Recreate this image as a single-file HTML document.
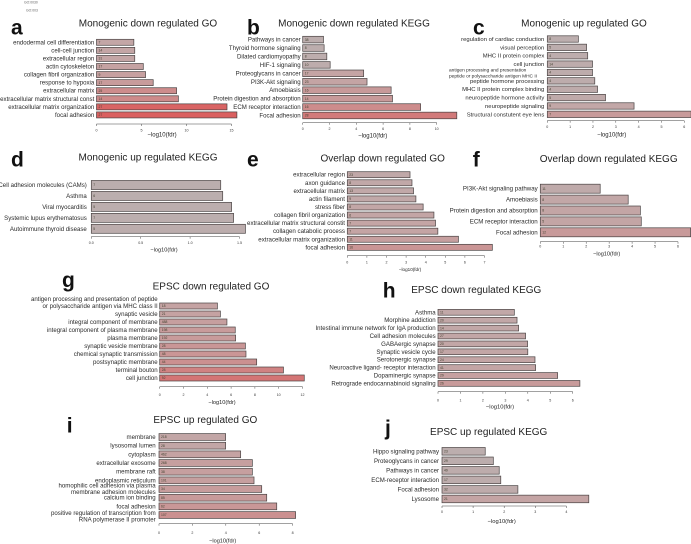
<!DOCTYPE html>
<html lang="en">
<head>
<meta charset="utf-8">
<title>GO and KEGG enrichment bar charts</title>
<style>
html,body{margin:0;padding:0;background:#fff;}
body{width:691px;height:544px;overflow:hidden;}
svg{display:block;font-family:"Liberation Sans",sans-serif;}
</style>
</head>
<body>
<svg id="figure" width="691" height="544" viewBox="0 0 691 544" xmlns="http://www.w3.org/2000/svg">
  <text x="24" y="3.5" font-size="3.4" fill="#666">GO:0030</text>
  <text x="26" y="11.5" font-size="3.4" fill="#666">GO:003</text>
</svg>
<script>
const aCategories = ["endodermal cell differentiation","cell-cell junction","extracellular region","actin cytoskeleton","collagen fibril organization","response to hypoxia","extracellular matrix","extracellular matrix structural const","extracellular matrix organization","focal adhesion"];
const aValues = [4.15,4.25,4.25,5.2,5.45,6.3,8.9,9.1,14.5,15.6];
const aCounts = [7,14,31,17,9,17,25,14,27,27];
const aTicks = ["0","5","10","15"];

const bCategories = ["Pathways in cancer","Thyroid hormone signaling","Dilated cardiomyopathy","HIF-1 signaling","Proteoglycans in cancer","PI3K-Akt signaling","Amoebiasis","Protein digestion and absorption","ECM receptor interaction","Focal adhesion"];
const bValues = [1.55,1.6,1.8,2.05,4.55,4.8,6.6,6.7,8.8,11.5];
const bCounts = [38,8,8,10,17,23,16,14,16,28];
const bTicks = ["0","2","4","6","8","10"];

const cCategories = ["regulation of cardiac conduction","visual perception","MHC II protein complex","cell junction","antigen processing and presentation\npeptide or polysaccharide antigen MHC II","peptide hormone processing","MHC II protein complex binding","neuropeptide hormone activity","neuropeptide signaling","Structural constutent eye lens"];
const cValues = [1.36,1.72,1.77,1.98,1.98,2.08,2.2,2.55,3.8,6.3];
const cCounts = [8,5,4,14,4,4,4,5,9,7];
const cTicks = ["0","1","2","3","4","5","6"];

const dCategories = ["Cell adhesion molecules (CAMs)","Asthma","Viral myocarditis","Systemic lupus erythematosus","Autoimmune thyroid disease"];
const dValues = [1.31,1.33,1.42,1.44,1.56];
const dCounts = [7,6,5,7,5];
const dTicks = ["0.0","0.5","1.0","1.5"];

const eCategories = ["extracellular region","axon guidance","extracellular matrix","actin filament","stress fiber","collagen fibril organization","extracellular matrix structural constit","collagen catabolic process","extracellular matrix organization","focal adhesion"];
const eValues = [3.2,3.3,3.38,3.5,3.87,4.42,4.5,4.62,5.67,7.4];
const eCounts = [23,8,13,9,8,6,7,7,11,16];
const eTicks = ["0","1","2","3","4","5","6","7"];

const fCategories = ["PI3K-Akt signaling pathway","Amoebiasis","Protein digestion and absorption","ECM receptor interaction","Focal adhesion"];
const fValues = [2.61,3.83,4.36,4.4,6.55];
const fCounts = [11,8,8,5,12];
const fTicks = ["0","1","2","3","4","5","6"];

const gCategories = ["antigen processing and presentation of peptide\nor polysaccharide antigen via MHC class II","synaptic vesicle","integral component of membrane","integral component of plasma membrane","plasma membrane","synaptic vesicle membrane","chemical synaptic transmission","postsynaptic membrane","terminal bouton","cell junction"];
const gValues = [4.85,5.1,5.65,6.35,6.38,7.2,7.25,8.15,10.4,12.15];
const gCounts = [18,21,488,198,192,28,48,44,28,92];
const gTicks = ["0","2","4","6","8","10","12"];

const hCategories = ["Asthma","Morphine addiction","Intestinal immune network for IgA production","Cell adhesion molecules","GABAergic synapse","Synaptic vesicle cycle","Serotonergic synapse","Neuroactive ligand- receptor interaction","Dopaminergic synapse","Retrograde endocannabinoid signaling"];
const hValues = [3.4,3.52,3.59,3.9,3.99,4.0,4.32,4.35,5.33,6.32];
const hCounts = [11,20,14,27,20,17,24,41,29,26];
const hTicks = ["0","1","2","3","4","5","6"];

const iCategories = ["membrane","lysosomal lumen","cytoplasm","extracellular exosome","membrane raft","endoplasmic reticulum","homophilic cell adhesion via plasma\nmembrane adhesion molecules","calcium ion binding","focal adhesion","positive regulation of transcription from\nRNA polymerase II promoter"];
const iValues = [3.99,3.99,4.89,5.59,5.59,5.69,6.15,6.45,7.05,8.18];
const iCounts = [218,28,462,268,38,101,34,85,62,107];
const iTicks = ["0","2","4","6","8"];

const jCategories = ["Hippo signaling pathway","Proteoglycans in cancer","Pathways in cancer","ECM-receptor interaction","Focal adhesion","Lysosome"];
const jValues = [1.39,1.65,1.84,1.89,2.44,4.72];
const jCounts = [23,29,49,17,32,21];
const jTicks = ["0","1","2","3","4"];

const panels = [
  {id:"a",title:"Monogenic down regulated GO",tx:148,ty:26.5,lx:11,ly:34.5,cats:aCategories,vals:aValues,cnt:aCounts,ticks:aTicks,tickStep:5,x0:96.5,ppu:9,y0:42.3,dy:8.07,bh:6,ax:124,tl:131.5,xl:136.5,xlx:162,gap:2.2,fs:6.1,xs:6},
  {id:"b",title:"Monogenic down regulated KEGG",tx:354,ty:26.5,lx:247,ly:34.5,cats:bCategories,vals:bValues,cnt:bCounts,ticks:bTicks,tickStep:2,x0:302.7,ppu:13.4,y0:39.6,dy:8.43,bh:6.6,ax:122.7,tl:130,xl:137.5,xlx:372.7,gap:2,fs:6.1,xs:6},
  {id:"c",title:"Monogenic up regulated GO",tx:584,ty:26.5,lx:473,ly:34.5,cats:cCategories,vals:cValues,cnt:cCounts,ticks:cTicks,tickStep:1,x0:547.3,ppu:22.83,y0:39,dy:8.37,bh:6.4,ax:120.7,tl:128,xl:136.5,xlx:611.7,gap:3,fs:5.9,xs:6,lineGap:6.2,multiFs:4.8,multiStart:449},
  {id:"d",title:"Monogenic up regulated KEGG",tx:148,ty:160.5,lx:11,ly:166.7,cats:dCategories,vals:dValues,cnt:dCounts,ticks:dTicks,tickStep:0.5,x0:91.3,ppu:98.8,y0:185,dy:10.95,bh:9,ax:236.7,tl:244,xl:251.7,xlx:164,gap:4.5,fs:6.1,xs:5.6},
  {id:"e",title:"Overlap down regulated GO",tx:382.7,ty:161.5,lx:247,ly:166.7,cats:eCategories,vals:eValues,cnt:eCounts,ticks:eTicks,tickStep:1,x0:347.3,ppu:19.6,y0:174.7,dy:8.07,bh:6,ax:255.7,tl:263.5,xl:271,xlx:410,gap:2.3,fs:6.15,xs:4.6},
  {id:"f",title:"Overlap down regulated KEGG",tx:608.7,ty:162,lx:472.7,ly:166.7,cats:fCategories,vals:fValues,cnt:fCounts,ticks:fTicks,tickStep:1,x0:540.3,ppu:22.95,y0:188.7,dy:10.9,bh:9,ax:241.7,tl:247.5,xl:255.5,xlx:606.7,gap:2.6,fs:6.15,xs:5.6},
  {id:"g",title:"EPSC down regulated GO",tx:211,ty:289.5,lx:62,ly:287,cats:gCategories,vals:gValues,cnt:gCounts,ticks:gTicks,tickStep:2,x0:159.7,ppu:11.9,y0:306,dy:8,bh:6,ax:386.7,tl:395.8,xl:404,xlx:222,gap:2,fs:6.1,xs:5.6,lineGap:7.3,multiShift:-3.6},
  {id:"h",title:"EPSC down regulated KEGG",tx:476.3,ty:293,lx:382.7,ly:297.7,cats:hCategories,vals:hValues,cnt:hCounts,ticks:hTicks,tickStep:1,x0:438,ppu:22.45,y0:312.3,dy:7.9,bh:5.8,ax:391.7,tl:401.5,xl:408.5,xlx:500,gap:2.3,fs:6.1,xs:5.8},
  {id:"i",title:"EPSC up regulated GO",tx:205.3,ty:423,lx:66.7,ly:432.7,cats:iCategories,vals:iValues,cnt:iCounts,ticks:iTicks,tickStep:2,x0:159,ppu:16.7,y0:437,dy:8.67,bh:6.8,ax:523.7,tl:534.2,xl:542.5,xlx:222.7,gap:3.3,fs:6.1,xs:5.6,lineGap:6.6,multiShift:1.2,rowNudge:{6:-1.5}},
  {id:"j",title:"EPSC up regulated KEGG",tx:488.7,ty:435,lx:385,ly:435,cats:jCategories,vals:jValues,cnt:jCounts,ticks:jTicks,tickStep:1,x0:442,ppu:31.1,y0:451.3,dy:9.53,bh:7.6,ax:506,tl:512.8,xl:522.8,xlx:501.7,gap:3,fs:6.1,xs:5.8}
];

const NS = "http://www.w3.org/2000/svg";
const figure = document.getElementById("figure");

function mk(parent, tag, attrs, txt) {
  const el = document.createElementNS(NS, tag);
  for (const k in attrs) el.setAttribute(k, attrs[k]);
  if (txt !== undefined) el.textContent = txt;
  parent.appendChild(el);
  return el;
}

/* colour ramp: grey at low -log10(fdr), red at high */
const rampStops = [[0,184,178,178],[5,197,163,163],[10,207,133,133],[15,218,96,96]];
function barColor(v) {
  for (let i = 1; i < rampStops.length; i++) {
    if (v <= rampStops[i][0]) {
      const a = rampStops[i-1], b = rampStops[i], t = (v - a[0]) / (b[0] - a[0]);
      return "rgb(" + [1,2,3].map(function (c) { return Math.round(a[c] + (b[c]-a[c])*t); }).join(",") + ")";
    }
  }
  return "rgb(218,96,96)";
}

panels.forEach(function (p) {
  const xScale = function (v) { return p.x0 + v * p.ppu; };
  const yScale = function (i) { return p.y0 + i * p.dy; };

  const g = mk(figure, "g", {});
  
  

  const letter = mk(g, "text", {x:p.lx, y:p.ly, "font-size":21, "font-weight":"bold", fill:"#111"}, p.id);
  
  

  const title = mk(g, "text", {x:p.tx, y:p.ty, "font-size":10, "text-anchor":"middle", fill:"#222"}, p.title);
  
  

  p.cats.forEach(function (cat, i) {
    const cy = yScale(i);
    const bar = mk(g, "rect", {
      x:xScale(0), y:cy - p.bh/2, width:xScale(p.vals[i]) - xScale(0), height:p.bh,
      fill:barColor(p.vals[i]), stroke:"#4a4444", "stroke-width":0.7
    });
    
    

    const count = mk(g, "text", {x:xScale(0) + 2, y:cy + 1.2, "font-size":3.4, fill:"#443"}, String(p.cnt[i]));
    
    

    const lines = cat.split("\n");
    const multi = lines.length > 1;
    const size = multi && p.multiFs ? p.multiFs : p.fs;
    const gap = p.lineGap || 6;
    const shift = (multi && p.multiShift ? p.multiShift : 0) + (p.rowNudge && p.rowNudge[i] ? p.rowNudge[i] : 0);
    const useStart = multi && p.multiStart;
    lines.forEach(function (line, k) {
      const ly = cy + 2 + shift + (k - (lines.length - 1) / 2) * gap;
      const label = mk(g, "text", {
        x: useStart ? p.multiStart : p.x0 - p.gap, y:ly, "font-size":size,
        "text-anchor": useStart ? "start" : "end", fill:"#2a2a2a"
      }, line);
      
      
    });
  });

  const axisEnd = xScale((p.ticks.length - 1) * p.tickStep);
  const axis = mk(g, "line", {x1:xScale(0), x2:axisEnd, y1:p.ax, y2:p.ax, stroke:"#444", "stroke-width":0.5});
  
  

  p.ticks.forEach(function (t, k) {
    const tx = xScale(k * p.tickStep);
    const tick = mk(g, "line", {x1:tx, x2:tx, y1:p.ax, y2:p.ax + 2, stroke:"#444", "stroke-width":0.5});
    
    
    const tl = mk(g, "text", {x:tx, y:p.tl, "font-size":3.6, "text-anchor":"middle", fill:"#333"}, t);
    
    
  });

  const xlabel = mk(g, "text", {x:p.xlx, y:p.xl, "font-size":p.xs, "text-anchor":"middle", fill:"#222"}, "\u2212log10(fdr)");
  
  
});
</script>
</body>
</html>
